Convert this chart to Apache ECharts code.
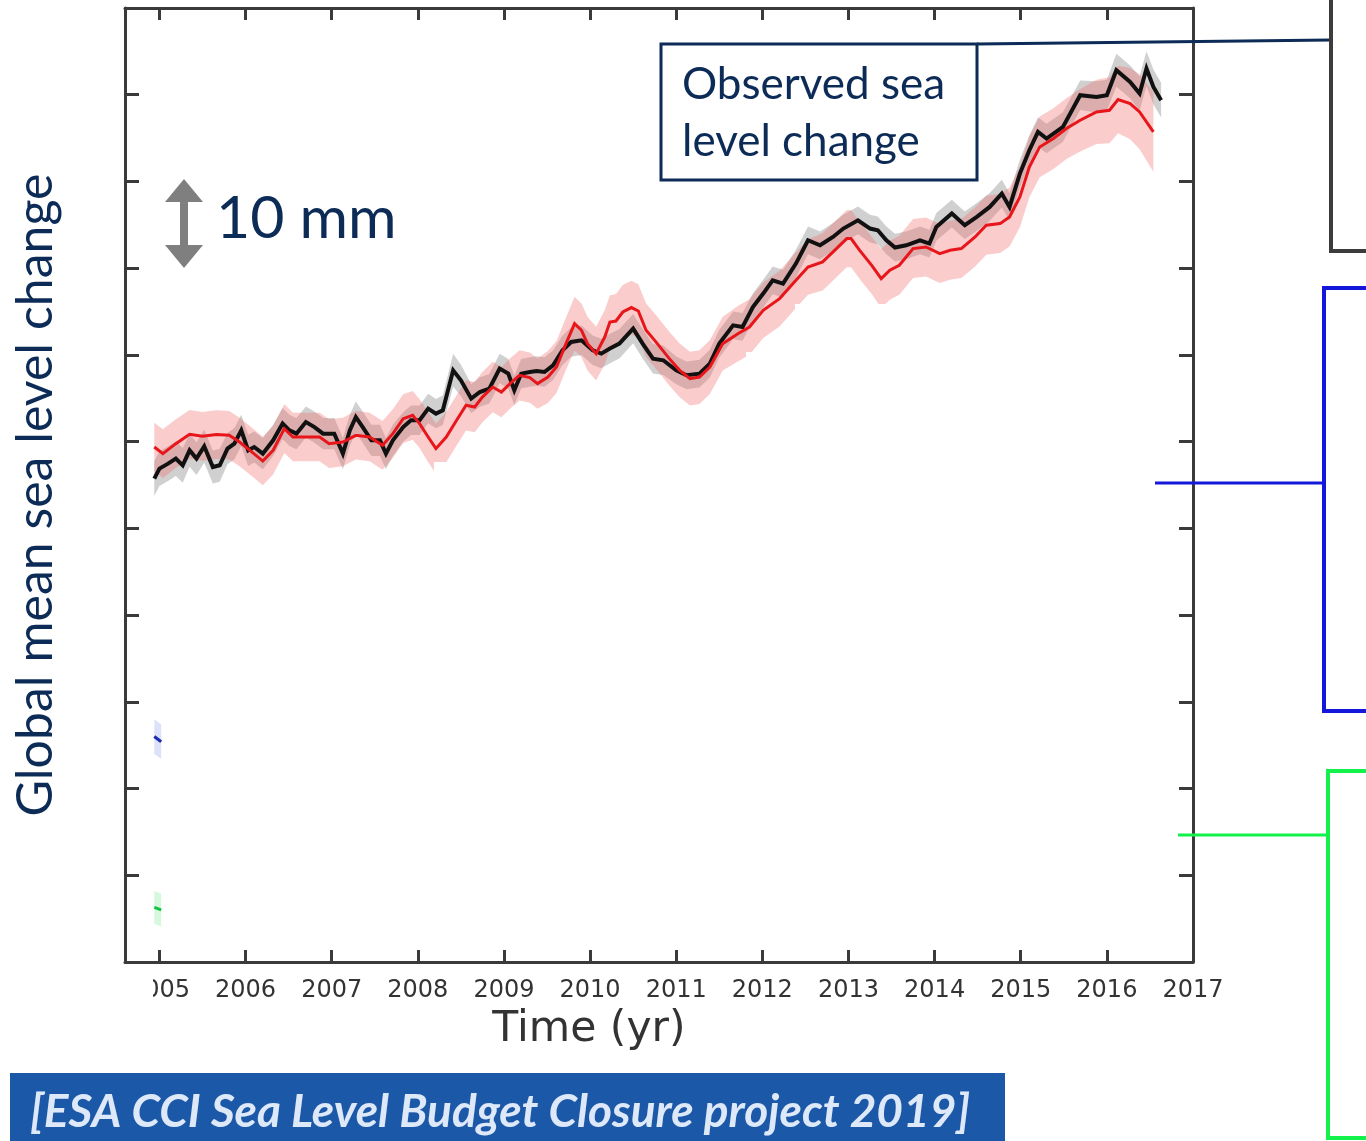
<!DOCTYPE html>
<html><head><meta charset="utf-8">
<script src="https://cdn.jsdelivr.net/npm/echarts@6/dist/echarts.min.js"></script>
<style>html,body{margin:0;padding:0;background:#fff}#c{width:1366px;height:1141px}</style>
</head><body><div id="c"></div>
<script>
// x tick labels (years)
const yearTicks = [2005,2006,2007,2008,2009,2010,2011,2012,2013,2014,2015,2016,2017];
// observed GMSL: [year, mm, uncertainty mm]
const observed = [
[2004.94,-24.27,2.0],[2005.00,-23.11,2.0],[2005.10,-22.54,2.0],[2005.19,-21.96,2.0],[2005.27,-22.73,2.0],
[2005.35,-21.00,1.9],[2005.43,-21.96,1.9],[2005.52,-20.54,1.9],[2005.62,-22.93,1.9],[2005.70,-22.73,1.9],
[2005.79,-20.81,1.8],[2005.87,-20.23,1.8],[2005.95,-18.70,1.8],[2006.03,-21.00,1.8],[2006.10,-20.62,1.8],
[2006.20,-21.38,1.8],[2006.32,-19.85,1.8],[2006.43,-17.92,1.8],[2006.51,-18.70,1.8],[2006.59,-19.08,1.8],
[2006.70,-17.74,1.8],[2006.80,-18.32,1.8],[2006.90,-19.08,1.8],[2007.03,-19.08,1.8],[2007.13,-21.38,1.8],
[2007.21,-18.70,1.8],[2007.28,-17.16,1.8],[2007.36,-18.32,1.8],[2007.46,-19.85,1.8],[2007.56,-19.85,1.8],
[2007.63,-21.38,1.8],[2007.71,-19.85,1.8],[2007.83,-18.32,1.7],[2007.92,-17.54,1.7],[2008.02,-17.54,1.7],
[2008.12,-16.19,1.7],[2008.21,-16.77,1.7],[2008.29,-16.39,1.7],[2008.41,-11.78,1.9],[2008.50,-12.93,1.8],
[2008.62,-15.04,1.7],[2008.72,-14.28,1.7],[2008.83,-13.89,1.7],[2008.95,-11.58,1.7],[2009.05,-12.16,1.7],
[2009.12,-14.08,1.7],[2009.20,-12.16,1.7],[2009.30,-11.97,1.7],[2009.38,-11.86,1.7],[2009.47,-11.97,1.7],
[2009.57,-11.20,1.7],[2009.68,-9.47,1.7],[2009.78,-8.51,1.7],[2009.90,-8.32,1.7],[2010.03,-9.47,1.7],
[2010.13,-9.85,1.7],[2010.23,-9.27,1.7],[2010.34,-8.70,1.7],[2010.50,-6.97,1.7],[2010.61,-8.70,1.7],
[2010.73,-10.43,1.7],[2010.85,-10.62,1.7],[2011.00,-11.78,1.6],[2011.12,-12.35,1.6],[2011.27,-12.16,1.6],
[2011.39,-11.00,1.6],[2011.50,-8.70,1.6],[2011.66,-6.59,1.6],[2011.77,-6.78,1.6],[2011.89,-4.48,1.6],
[2012.01,-2.93,1.6],[2012.12,-1.40,1.6],[2012.24,-1.78,1.6],[2012.39,0.53,1.6],[2012.53,3.22,1.6],
[2012.67,2.64,1.6],[2012.82,3.60,1.6],[2012.94,4.57,1.6],[2013.11,5.52,1.6],[2013.25,4.57,1.6],
[2013.34,4.37,1.6],[2013.44,3.22,1.6],[2013.54,2.38,1.6],[2013.67,2.64,1.6],[2013.83,3.22,1.6],
[2013.94,2.84,1.6],[2014.02,4.75,1.6],[2014.20,6.30,1.6],[2014.35,4.95,1.6],[2014.49,5.91,1.6],
[2014.64,7.06,1.6],[2014.78,8.60,1.6],[2014.87,7.06,1.6],[2014.99,10.91,1.6],[2015.10,13.60,1.7],
[2015.20,15.71,1.7],[2015.30,14.95,1.7],[2015.49,16.29,1.7],[2015.69,19.94,1.7],[2015.88,19.75,1.8],
[2016.00,19.94,1.8],[2016.11,22.83,1.9],[2016.27,21.48,1.9],[2016.38,20.14,2.0],[2016.46,23.02,2.0],
[2016.54,20.90,2.0],[2016.63,19.37,2.0]
];
// sum of components: [year, mm, uncertainty mm]
const sumComponents = [
[2004.94,-20.62,2.8],[2005.04,-21.38,2.8],[2005.19,-20.23,2.8],[2005.35,-19.16,2.8],[2005.50,-19.39,2.8],
[2005.66,-19.19,2.8],[2005.81,-19.27,2.8],[2005.93,-20.05,2.8],[2006.05,-21.00,2.8],[2006.20,-22.24,2.8],
[2006.32,-21.00,2.8],[2006.45,-18.50,2.8],[2006.55,-19.47,2.8],[2006.70,-19.47,2.8],[2006.86,-19.47,2.8],
[2006.97,-20.23,2.8],[2007.13,-20.05,2.8],[2007.28,-19.27,2.8],[2007.44,-19.47,2.8],[2007.59,-20.43,2.8],
[2007.71,-19.08,2.8],[2007.83,-17.35,2.8],[2007.94,-16.97,2.8],[2008.02,-17.92,2.8],[2008.12,-19.47,2.9],
[2008.21,-20.81,2.9],[2008.33,-19.47,2.9],[2008.45,-17.54,2.9],[2008.56,-15.81,2.9],[2008.66,-16.01,2.9],
[2008.75,-14.86,2.9],[2008.87,-13.70,2.9],[2008.97,-14.28,2.9],[2009.07,-13.31,2.9],[2009.18,-12.35,2.9],
[2009.30,-12.62,2.9],[2009.39,-13.31,2.9],[2009.51,-12.55,3.0],[2009.61,-11.40,3.0],[2009.72,-8.70,3.0],
[2009.82,-6.39,3.1],[2009.90,-7.16,3.1],[2009.97,-8.70,3.1],[2010.07,-9.85,3.1],[2010.17,-7.94,3.1],
[2010.23,-6.21,3.1],[2010.30,-6.09,3.1],[2010.38,-5.05,3.1],[2010.48,-4.54,3.1],[2010.56,-4.94,3.1],
[2010.65,-7.16,3.1],[2010.75,-8.32,3.1],[2010.92,-10.43,3.1],[2011.04,-11.78,3.1],[2011.16,-12.73,3.1],
[2011.27,-12.55,3.1],[2011.39,-11.40,3.1],[2011.54,-8.70,3.1],[2011.72,-7.54,3.2],[2011.85,-6.78,3.2],
[2012.01,-4.86,3.2],[2012.20,-3.51,3.2],[2012.39,-1.40,3.2],[2012.53,0.14,3.2],[2012.70,0.72,3.3],
[2012.86,2.26,3.3],[2012.98,3.41,3.3],[2013.03,3.41,3.3],[2013.13,2.06,3.3],[2013.27,0.33,3.3],
[2013.38,-1.20,3.4],[2013.48,-0.24,3.4],[2013.59,0.33,3.4],[2013.75,2.26,3.4],[2013.90,2.45,3.4],
[2014.06,1.68,3.4],[2014.18,2.06,3.4],[2014.31,2.26,3.4],[2014.47,3.60,3.4],[2014.60,4.95,3.4],
[2014.76,5.14,3.4],[2014.87,5.91,3.4],[2014.99,8.21,3.5],[2015.10,11.67,3.5],[2015.22,13.98,3.5],
[2015.38,14.95,3.5],[2015.53,16.10,3.5],[2015.69,17.06,3.6],[2015.88,18.02,3.7],[2016.03,18.21,3.8],
[2016.13,19.45,3.9],[2016.27,18.98,4.1],[2016.38,18.02,4.3],[2016.54,15.71,4.6]
];
// visible fragments of other (cropped) series at the left edge
const blueFragment = [[2004.94,-54.0,2.0],[2005.02,-54.6,2.0]];
const greenFragment = [[2004.94,-73.7,1.9],[2005.02,-74.0,1.9]];

const chart = echarts.init(document.getElementById('c'));
const navy = '#0c2b57';
const frame = '#3a3a3a';

function band(rows, color, z) {
  return {
    type: 'custom', z: z, silent: true, data: [[2010, 0]],
    renderItem: function (params, api) {
      const up = rows.map(r => api.coord([r[0], r[1] + r[2]]));
      const lo = rows.map(r => api.coord([r[0], r[1] - r[2]])).reverse();
      return { type: 'polygon', shape: { points: up.concat(lo) }, style: { fill: color } };
    }
  };
}
function line(rows, color, width, z) {
  return {
    type: 'line', z: z, silent: true, showSymbol: false, animation: false,
    data: rows.map(r => [r[0], r[1]]),
    lineStyle: { color: color, width: width, join: 'miter' }
  };
}
const xCommon = {
  type: 'value', min: 2004.6, max: 2017,
  axisLine: { show: true, onZero: false, lineStyle: { color: frame, width: 3 } },
  axisTick: { show: true, inside: true, length: 12, customValues: yearTicks, lineStyle: { color: frame, width: 3 } },
  splitLine: { show: false }
};
const yCommon = {
  type: 'value', min: -80, max: 30, interval: 10,
  axisLine: { show: true, onZero: false, lineStyle: { color: frame, width: 3 } },
  axisTick: { show: true, inside: true, length: 14, lineStyle: { color: frame, width: 3 } },
  axisLabel: { show: false },
  splitLine: { show: false }
};
const white = '#ffffff';
chart.setOption({
  animation: false,
  backgroundColor: '#ffffff',
  grid: { left: 125, right: 173, top: 8, bottom: 179, containLabel: false },
  xAxis: [
    Object.assign({}, xCommon, { position: 'bottom',
      axisLabel: { show: true, customValues: yearTicks, margin: 17, fontFamily: 'DejaVu Sans', fontSize: 24, color: '#333333', formatter: v => String(v) } }),
    Object.assign({}, xCommon, { position: 'top', axisLabel: { show: false } })
  ],
  yAxis: [
    Object.assign({}, yCommon, { position: 'left' }),
    Object.assign({}, yCommon, { position: 'right' })
  ],
  series: [
    band(observed, 'rgba(150,150,150,0.45)', 1),
    band(sumComponents, 'rgba(240,110,110,0.35)', 1),
    band(blueFragment, 'rgba(120,140,240,0.25)', 1),
    band(greenFragment, 'rgba(90,230,120,0.25)', 1),
    line(observed, '#111111', 4, 4),
    line(sumComponents, '#e8161b', 3, 5),
    line(blueFragment, '#1c2cb0', 3, 4),
    line(greenFragment, '#12c443', 3, 4)
  ],
  graphic: [
    // white masks from the original composite
    { type: 'rect', z: 2, silent: true, shape: { x: 434, y: 462, width: 312, height: 480 }, style: { fill: white } },
    { type: 'rect', z: 2, silent: true, shape: { x: 746, y: 352, width: 49, height: 590 }, style: { fill: white } },
    { type: 'rect', z: 2, silent: true, shape: { x: 795, y: 304, width: 300, height: 630 }, style: { fill: white } },
    { type: 'rect', z: 10, silent: true, shape: { x: 118, y: 972, width: 35, height: 34 }, style: { fill: white } },
    // 10 mm scale arrow
    { type: 'polygon', z: 10, shape: { points: [[184,179],[203,202],[188,202],[188,245],[203,245],[184,268],[165,245],[180,245],[180,202],[165,202]] }, style: { fill: '#7f7f7f' } },
    { type: 'text', z: 10, x: 216, y: 219, style: { text: '10 mm', fontFamily: 'Lato', fontSize: 59, fill: navy, textAlign: 'left', textVerticalAlign: 'middle' } },
    // y title
    { type: 'text', z: 10, x: 36, y: 495, rotation: Math.PI / 2, style: { text: 'Global mean sea level change', fontFamily: 'Lato', fontSize: 50, fill: navy, textAlign: 'center', textVerticalAlign: 'middle' } },
    // x title
    { type: 'text', z: 10, x: 589, y: 1030, style: { text: 'Time (yr)', fontFamily: 'DejaVu Sans', fontSize: 42.5, fill: '#333333', textAlign: 'center', textVerticalAlign: 'middle' } },
    // Observed box and callout
    { type: 'line', z: 10, shape: { x1: 977, y1: 44, x2: 1331, y2: 40 }, style: { stroke: navy, lineWidth: 3 } },
    { type: 'rect', z: 10, shape: { x: 661, y: 44, width: 316, height: 136 }, style: { fill: '#ffffff', stroke: navy, lineWidth: 3 } },
    { type: 'text', z: 11, x: 682, y: 85, style: { text: 'Observed sea', fontFamily: 'Lato', fontSize: 44, fill: navy, textAlign: 'left', textVerticalAlign: 'middle' } },
    { type: 'text', z: 11, x: 682, y: 142, style: { text: 'level change', fontFamily: 'Lato', fontSize: 44, fill: navy, textAlign: 'left', textVerticalAlign: 'middle' } },
    // right-hand panel frames
    { type: 'polyline', z: 10, shape: { points: [[1331,0],[1331,251],[1366,251]] }, style: { stroke: '#3c3c3c', lineWidth: 4, fill: null } },
    { type: 'line', z: 10, shape: { x1: 1155, y1: 483, x2: 1324, y2: 483 }, style: { stroke: '#1418dc', lineWidth: 3 } },
    { type: 'polyline', z: 10, shape: { points: [[1366,288],[1324,288],[1324,711],[1366,711]] }, style: { stroke: '#1418dc', lineWidth: 4, fill: null } },
    { type: 'line', z: 10, shape: { x1: 1178, y1: 835, x2: 1328, y2: 835 }, style: { stroke: '#12f24a', lineWidth: 3 } },
    { type: 'polyline', z: 10, shape: { points: [[1366,771],[1328,771],[1328,1138],[1366,1138]] }, style: { stroke: '#12f24a', lineWidth: 4, fill: null } },
    // source banner
    { type: 'rect', z: 10, shape: { x: 10, y: 1073, width: 995, height: 68 }, style: { fill: '#1c58a8' } },
    { type: 'text', z: 11, x: 30, y: 1112, style: { text: '[ESA CCI Sea Level Budget Closure project 2019]', fontFamily: 'Lato', fontStyle: 'italic', fontWeight: 'bold', fontSize: 46, fill: '#dde8f8', textAlign: 'left', textVerticalAlign: 'middle' } }
  ]
});
</script>
</body></html>
